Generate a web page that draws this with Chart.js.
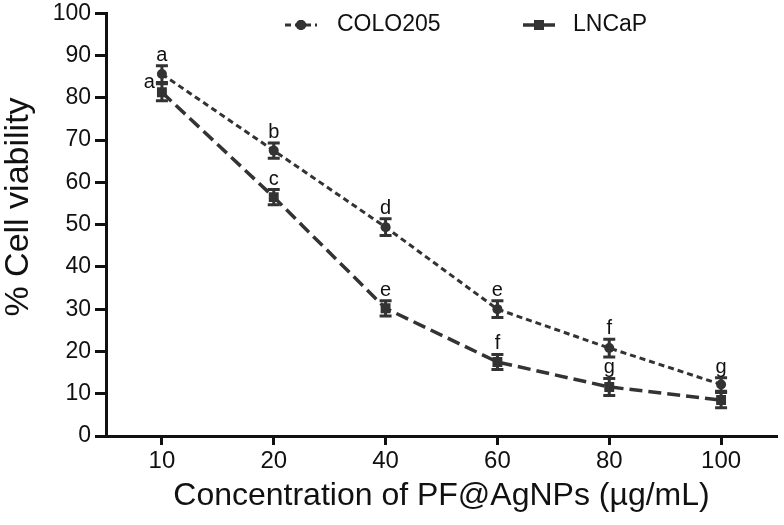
<!DOCTYPE html>
<html>
<head>
<meta charset="utf-8">
<script src="https://cdn.jsdelivr.net/npm/chart.js@4.4.0/dist/chart.umd.min.js"></script>
<style>
  html, body { margin: 0; padding: 0; background: #fff; }
</style>
</head>
<body>
<canvas id="myChart" width="784" height="525"></canvas>
<script>
// concentrazioni (asse x) e valori
const concLabels = ["10", "20", "40", "60", "80", "100"];
const yTicks = [0, 10, 20, 30, 40, 50, 60, 70, 80, 90, 100];

const coloValues = [85.6, 67.5, 49.4, 30.0, 20.8, 12.2];
const coloErrors = [2.0, 1.8, 2.0, 2.0, 2.1, 1.6];
const coloLetters = ["a", "b", "d", "e", "f", "g"];

const lncapValues = [81.3, 56.5, 30.2, 17.5, 11.6, 8.5];
const lncapErrors = [2.0, 1.8, 1.8, 1.8, 2.0, 1.8];
const lncapLetters = ["a", "c", "e", "f", "g", ""];

const FONT = "'Liberation Sans', Arial, sans-serif";
const INK = "#333333";
const AXIS = "#111111";

function toPoints(values) {
  return values.map((v, i) => ({ x: i, y: v }));
}

// barre di errore + lettere di significativita'
const errorBarPlugin = {
  id: "errorBars",
  afterDatasetsDraw(chart) {
    const ctx = chart.ctx;
    const xs = chart.scales.x;
    const ys = chart.scales.y;
    const errs = [coloErrors, lncapErrors];
    const letters = [coloLetters, lncapLetters];
    ctx.save();
    ctx.strokeStyle = INK;
    ctx.lineWidth = 3;
    ctx.fillStyle = "#111";
    ctx.font = "20px " + FONT;
    chart.data.datasets.forEach((ds, d) => {
      ds.data.forEach((p, i) => {
        const x = xs.getPixelForValue(p.x);
        const top = ys.getPixelForValue(p.y + errs[d][i]);
        const bot = ys.getPixelForValue(p.y - errs[d][i]);
        ctx.beginPath();
        ctx.moveTo(x, top); ctx.lineTo(x, bot);
        ctx.moveTo(x - 6, top); ctx.lineTo(x + 6, top);
        ctx.moveTo(x - 6, bot); ctx.lineTo(x + 6, bot);
        ctx.stroke();

        const txt = letters[d][i];
        if (!txt) return;
        // se la barra dell'altra serie e' troppo vicina, lettera a sinistra
        let side = "above";
        if (d === 1) {
          const other = chart.data.datasets[0].data[i];
          const otherBot = ys.getPixelForValue(other.y - errs[0][i]);
          if (top - otherBot < 15) side = "left";
        }
        if (side === "left") {
          ctx.textAlign = "right";
          ctx.textBaseline = "alphabetic";
          ctx.fillText(txt, x - 7, top + 4);
        } else {
          ctx.textAlign = "center";
          ctx.textBaseline = "alphabetic";
          ctx.fillText(txt, x, top - 5);
        }
      });
    });
    ctx.restore();
  },
};

// legenda disegnata a mano (linea tratteggiata + marker) e titolo asse y
const legendPlugin = {
  id: "customLegend",
  afterDraw(chart) {
    const ctx = chart.ctx;
    const items = [
      { ds: chart.data.datasets[0], x0: 285, x1: 317, tx: 337 },
      { ds: chart.data.datasets[1], x0: 523, x1: 555, tx: 573 },
    ];
    const y = 25;
    ctx.save();
    items.forEach((it) => {
      ctx.strokeStyle = INK;
      ctx.lineWidth = it.ds.borderWidth;
      ctx.setLineDash(it.ds.borderDash);
      ctx.beginPath();
      ctx.moveTo(it.x0, y);
      ctx.lineTo(it.x1, y);
      ctx.stroke();
      ctx.setLineDash([]);
      Chart.helpers.drawPoint(ctx, {
        pointStyle: it.ds.pointStyle,
        radius: it.ds.pointRadius,
        borderWidth: 0,
      }, (it.x0 + it.x1) / 2, y);
      ctx.fillStyle = INK;
      ctx.fill();
      ctx.fillStyle = "#111";
      ctx.font = "23px " + FONT;
      ctx.textAlign = "left";
      ctx.textBaseline = "middle";
      ctx.fillText(it.ds.label, it.tx, y);
    });

    // titolo asse y
    ctx.translate(19, 207);
    ctx.rotate(-Math.PI / 2);
    ctx.font = "34px " + FONT;
    ctx.textAlign = "center";
    ctx.textBaseline = "middle";
    ctx.fillStyle = "#111";
    ctx.fillText("% Cell viability", 0, 0);
    ctx.restore();
  },
};

const ctx = document.getElementById("myChart").getContext("2d");
const myChart = new Chart(ctx, {
  type: "line",
  data: {
    datasets: [
      {
        label: "COLO205",
        data: toPoints(coloValues),
        borderColor: INK,
        borderWidth: 3,
        borderDash: [6, 4],
        pointStyle: "circle",
        pointRadius: 5,
        pointBackgroundColor: INK,
        pointBorderWidth: 0,
        tension: 0,
      },
      {
        label: "LNCaP",
        data: toPoints(lncapValues),
        borderColor: INK,
        borderWidth: 3.5,
        borderDash: [13, 6],
        pointStyle: "rect",
        pointRadius: 7,
        pointBackgroundColor: INK,
        pointBorderWidth: 0,
        tension: 0,
      },
    ],
  },
  options: {
    responsive: false,
    animation: false,
    layout: { padding: { top: 11, right: 1, left: 0, bottom: 0 } },
    plugins: {
      legend: { display: false },
      tooltip: { enabled: false },
    },
    scales: {
      x: {
        type: "linear",
        min: -0.5,
        max: 5.5,
        afterBuildTicks: (s) => {
          s.ticks = concLabels.map((_, i) => ({ value: i }));
        },
        afterFit: (s) => { s.height = 89; },
        ticks: {
          callback: (v) => concLabels[v],
          color: "#111",
          font: { family: FONT, size: 24 },
          padding: 2,
          maxRotation: 0,
        },
        grid: {
          display: true,
          drawOnChartArea: false,
          drawTicks: true,
          tickLength: 9,
          tickWidth: 3,
          tickColor: AXIS,
        },
        border: { display: true, color: AXIS, width: 3 },
        title: {
          display: true,
          text: "Concentration of PF@AgNPs (µg/mL)",
          color: "#111",
          font: { family: FONT, size: 32 },
          padding: { top: 0, bottom: 10 },
        },
      },
      y: {
        min: 0,
        max: 100,
        afterBuildTicks: (s) => {
          s.ticks = yTicks.map((v) => ({ value: v }));
        },
        afterFit: (s) => { s.width = 106; },
        ticks: {
          color: "#111",
          font: { family: FONT, size: 23, lineHeight: 0.8 },
          padding: 4,
        },
        grid: {
          display: true,
          drawOnChartArea: false,
          drawTicks: true,
          tickLength: 11,
          tickWidth: 3,
          tickColor: AXIS,
        },
        border: { display: true, color: AXIS, width: 3 },
        title: { display: false },
      },
    },
  },
  plugins: [errorBarPlugin, legendPlugin],
});
</script>
</body>
</html>
